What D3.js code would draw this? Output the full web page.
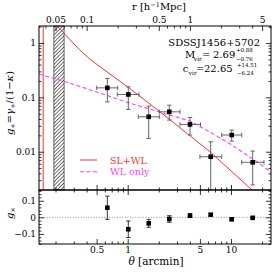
<!DOCTYPE html>
<html><head><meta charset="utf-8">
<script src="https://cdn.jsdelivr.net/npm/d3@7"></script>
<style>
body{margin:0;background:#fff;}
svg{display:block;font-family:"DejaVu Serif",serif;}
</style></head>
<body><svg id="c" width="274" height="272"></svg>
<script>
// ---------- data ----------
const theta    = [0.635, 1.013, 1.597, 2.527, 4.01, 6.36, 10.16, 16.22];
const thetaLo  = [0.501, 0.793, 1.266, 2.023, 3.208, 5.0, 8.13, 12.69];
const thetaHi  = [0.80, 1.286, 2.023, 3.208, 5.07, 8.13, 12.69, 20.87];
const gPlus    = [0.1494, 0.113, 0.0439, 0.0542, 0.0318, 0.00809, 0.0203, 0.0064];
const gPlusLo  = [0.0827, 0.060, 0.0176, 0.0382, 0.0203, 0.0003, 0.0157, 0.00245];
const gPlusHi  = [0.222, 0.156, 0.0689, 0.0719, 0.0428, 0.01526, 0.025, 0.0103];
const gCross   = [0.058, -0.072, -0.036, -0.010, 0.010, 0.016, -0.012, -0.003];
const gCrossErr= [0.070, 0.050, 0.024, 0.020, 0.011, 0.007, 0.005, 0.005];
// SL+WL model (outer branch) and its pole
const slwlTheta = [0.2068, 0.2212, 0.2472, 0.2763, 0.3452, 0.4315, 0.5393, 1.0526, 2.054, 6.263, 15.97, 20];
const slwlG     = [2.05, 1.837, 1.444, 1.145, 0.7345, 0.5024, 0.3659, 0.1444, 0.0542, 0.0100, 0.00198, 0.0011];
const slwlPoleTheta = [0.152, 0.152];
const slwlPoleG     = [100, 0.0001];
// WL only model
const wlTheta = [0.1384, 0.2763, 0.5393, 1.007, 2.054, 4.010, 6.263, 10.22, 16.33, 24.4];
const wlG     = [0.2666, 0.1822, 0.1194, 0.0799, 0.0535, 0.0366, 0.0230, 0.01327, 0.00735, 0.00424];
const hatchRange = [0.193, 0.242];
const thetaPerMpc = 4.0;
const yTopMajor = [0.01, 0.1, 1];
const xMajor = [0.5, 1, 5, 10];
const rMajor = [0.05, 0.1, 0.5, 1, 5];
const yBotMajor = [-0.1, 0, 0.1];

// ---------- layout ----------
const L = 39, R = 271, T = 26, M = 190, B = 244;
const svg = d3.select("#c");
const x = d3.scaleLog().domain([0.1384, 24.39]).range([L, R]);
const xr = d3.scaleLog().domain([0.1384/thetaPerMpc, 24.39/thetaPerMpc]).range([L, R]);
const yT = d3.scaleLog().domain([0.00198, 2.05]).range([M, T]);
const yB = d3.scaleLinear().domain([-0.161, 0.165]).range([B, M]);

function logMinors(dom){
  const out=[]; const lo=Math.min(...dom), hi=Math.max(...dom);
  for(let e=-4;e<=3;e++) for(let m=1;m<10;m++){const v=m*Math.pow(10,e); if(v>=lo&&v<=hi) out.push(v);}
  return out;
}
const fmt = d => { if (d===0) return "0"; const s = d3.format("~g")(d); return s.replace("-", "\u2212"); };

function ax(gen, scale, ticks, len, labels, tr){
  const a = gen(scale).tickValues(ticks).tickSizeInner(-len).tickSizeOuter(0).tickPadding(3)
    .tickFormat(labels ? fmt : "");
  const g = svg.append("g").attr("transform", tr).call(a);
  g.select(".domain").remove();
  g.selectAll("line").attr("stroke","#000").attr("stroke-width",0.8);
  g.selectAll("text").attr("font-family","DejaVu Serif").attr("font-size",9).attr("fill","#000");
  return g;
}
const majLen=5, minLen=2.5;

// clip paths
const defs = svg.append("defs");
defs.append("clipPath").attr("id","clipT").append("rect").attr("x",L).attr("y",T).attr("width",R-L).attr("height",M-T);
defs.append("clipPath").attr("id","clipB").append("rect").attr("x",L).attr("y",M).attr("width",R-L).attr("height",B-M);
const pat = defs.append("pattern").attr("id","hatch").attr("patternUnits","userSpaceOnUse")
  .attr("width",2.6).attr("height",2.6).attr("patternTransform","rotate(45)");
pat.append("line").attr("x1",0).attr("y1",0).attr("x2",0).attr("y2",2.6).attr("stroke","#000").attr("stroke-width",1.1);

// hatched region
svg.append("rect").attr("x",x(hatchRange[0])).attr("y",T).attr("width",x(hatchRange[1])-x(hatchRange[0]))
  .attr("height",M-T).attr("fill","url(#hatch)").attr("stroke","#000").attr("stroke-width",0.6);

const gT = svg.append("g").attr("clip-path","url(#clipT)");
const line = d3.line().x(d=>x(d[0])).y(d=>yT(d[1]));
gT.append("path").attr("d", line(slwlTheta.map((t,i)=>[t,slwlG[i]]))).attr("fill","none").attr("stroke","#ff3030").attr("stroke-width",1);
gT.append("path").attr("d", line(slwlPoleTheta.map((t,i)=>[t,slwlPoleG[i]]))).attr("fill","none").attr("stroke","#ff3030").attr("stroke-width",1);
gT.append("path").attr("d", line(wlTheta.map((t,i)=>[t,wlG[i]]))).attr("fill","none").attr("stroke","#ff40ff").attr("stroke-width",1.1).attr("stroke-dasharray","4,2.5");

// error bars top
const ecol = "#555", cap = 2.2;
theta.forEach((t,i)=>{
  const cx=x(t), cy=yT(gPlus[i]);
  gT.append("line").attr("x1",cx).attr("x2",cx).attr("y1",yT(gPlusLo[i])).attr("y2",yT(gPlusHi[i])).attr("stroke",ecol).attr("stroke-width",0.9);
  gT.append("line").attr("x1",x(thetaLo[i])).attr("x2",x(thetaHi[i])).attr("y1",cy).attr("y2",cy).attr("stroke",ecol).attr("stroke-width",0.9);
  [yT(gPlusLo[i]),yT(gPlusHi[i])].forEach(yy=>gT.append("line").attr("x1",cx-cap).attr("x2",cx+cap).attr("y1",yy).attr("y2",yy).attr("stroke",ecol).attr("stroke-width",0.9));
  [x(thetaLo[i]),x(thetaHi[i])].forEach(xx=>gT.append("line").attr("x1",xx).attr("x2",xx).attr("y1",cy-cap).attr("y2",cy+cap).attr("stroke",ecol).attr("stroke-width",0.9));
  gT.append("rect").attr("x",cx-2.3).attr("y",cy-2.3).attr("width",4.6).attr("height",4.6).attr("fill","#000");
});

// bottom panel
const gB = svg.append("g").attr("clip-path","url(#clipB)");
gB.append("line").attr("x1",L).attr("x2",R).attr("y1",yB(0)).attr("y2",yB(0)).attr("stroke","#888").attr("stroke-width",0.9).attr("stroke-dasharray","1,1.6");
theta.forEach((t,i)=>{
  const cx=x(t), cy=yB(gCross[i]);
  const y1=yB(gCross[i]-gCrossErr[i]), y2=yB(gCross[i]+gCrossErr[i]);
  gB.append("line").attr("x1",cx).attr("x2",cx).attr("y1",y1).attr("y2",y2).attr("stroke","#222").attr("stroke-width",0.9);
  [y1,y2].forEach(yy=>gB.append("line").attr("x1",cx-cap).attr("x2",cx+cap).attr("y1",yy).attr("y2",yy).attr("stroke","#222").attr("stroke-width",0.9));
  gB.append("rect").attr("x",cx-2.3).attr("y",cy-2.3).attr("width",4.6).attr("height",4.6).attr("fill","#000");
});

// axes: top panel
const yTMin = logMinors(yT.domain()).filter(v=>!yTopMajor.includes(v));
ax(d3.axisLeft, yT, yTopMajor, majLen, true, `translate(${L},0)`);
ax(d3.axisLeft, yT, yTMin, minLen, false, `translate(${L},0)`);
ax(d3.axisRight, yT, yTopMajor, majLen, false, `translate(${R},0)`);
ax(d3.axisRight, yT, yTMin, minLen, false, `translate(${R},0)`);
const xMin = logMinors(x.domain()).filter(v=>!xMajor.includes(v));
ax(d3.axisBottom, x, xMajor, majLen, false, `translate(0,${M})`);
ax(d3.axisBottom, x, xMin, minLen, false, `translate(0,${M})`);
const rMin = logMinors(xr.domain()).filter(v=>!rMajor.includes(v));
ax(d3.axisTop, xr, rMajor, majLen, true, `translate(0,${T})`);
ax(d3.axisTop, xr, rMin, minLen, false, `translate(0,${T})`);
// axes: bottom panel
const yBMin = d3.range(-0.16, 0.161, 0.02).map(v=>+v.toFixed(2)).filter(v=>!yBotMajor.includes(v));
ax(d3.axisLeft, yB, yBotMajor, majLen, true, `translate(${L},0)`);
ax(d3.axisLeft, yB, yBMin, minLen, false, `translate(${L},0)`);
ax(d3.axisRight, yB, yBotMajor, majLen, false, `translate(${R},0)`);
ax(d3.axisRight, yB, yBMin, minLen, false, `translate(${R},0)`);
ax(d3.axisTop, x, xMajor, majLen, false, `translate(0,${M})`);
ax(d3.axisTop, x, xMin, minLen, false, `translate(0,${M})`);
ax(d3.axisBottom, x, xMajor, majLen, true, `translate(0,${B})`);
ax(d3.axisBottom, x, xMin, minLen, false, `translate(0,${B})`);

// frames
svg.append("rect").attr("x",L).attr("y",T).attr("width",R-L).attr("height",M-T).attr("fill","none").attr("stroke","#000").attr("stroke-width",1);
svg.append("rect").attr("x",L).attr("y",M).attr("width",R-L).attr("height",B-M).attr("fill","none").attr("stroke","#000").attr("stroke-width",1);

// texts
function txt(s, px, py, size, opts={}){
  const t = svg.append("text").attr("x",px).attr("y",py).attr("font-size",size).attr("fill",opts.fill||"#000")
    .attr("text-anchor",opts.anchor||"start").attr("font-family","DejaVu Serif");
  if(opts.italic) t.attr("font-style","italic");
  t.text(s); return t;
}
// top axis title
const tt = svg.append("text").attr("x",159).attr("y",10).attr("text-anchor","middle").attr("font-size",10);
tt.append("tspan").text("r [h");
tt.append("tspan").attr("font-size",6.5).attr("dy",-3.5).text("\u22121");
tt.append("tspan").attr("dy",3.5).text("Mpc]");
// bottom axis title
const bt = svg.append("text").attr("x",156).attr("y",265).attr("text-anchor","middle").attr("font-size",10.5);
bt.append("tspan").attr("font-style","italic").text("\u03b8");
bt.append("tspan").text(" [arcmin]");
// y label top
const yl = svg.append("text").attr("transform","translate(13,103) rotate(-90)").attr("text-anchor","middle").attr("font-size",10);
yl.append("tspan").attr("font-style","italic").text("g");
yl.append("tspan").attr("font-size",6.5).attr("dy",2).text("+");
yl.append("tspan").attr("dy",-2).text("=");
yl.append("tspan").attr("font-style","italic").text("\u03b3");
yl.append("tspan").attr("font-size",6.5).attr("dy",2).text("+");
yl.append("tspan").attr("dy",-2).text("/(1\u2212");
yl.append("tspan").attr("font-style","italic").text("\u03ba");
yl.append("tspan").text(")");
// y label bottom
const yl2 = svg.append("text").attr("transform","translate(13,213) rotate(-90)").attr("text-anchor","middle").attr("font-size",10);
yl2.append("tspan").attr("font-style","italic").text("g");
yl2.append("tspan").attr("font-size",6.5).attr("dy",2).text("\u00d7");

// annotation
txt("SDSSJ1456+5702", 260, 46, 10, {anchor:"end"});
txt("M", 185, 58, 10); txt("vir", 193.8, 60.5, 6); txt("=", 202, 58, 10); txt("2.69", 213, 58, 10);
txt("+0.88", 236, 52.3, 5.5); txt("\u22120.76", 236, 60.6, 5.5);
txt("c", 182.7, 72, 10); txt("vir", 188.6, 74.5, 6); txt("=", 196, 72, 10); txt("22.65", 204, 72, 10);
txt("+14.51", 237, 67.4, 5.5); txt("\u22126.24", 237, 75.2, 5.5);

// legend
svg.append("line").attr("x1",80).attr("x2",97).attr("y1",160).attr("y2",160).attr("stroke","#ff3030").attr("stroke-width",1);
txt("SL+WL", 110, 163.5, 9.5, {fill:"#ff3030"});
svg.append("line").attr("x1",80).attr("x2",97).attr("y1",171.7).attr("y2",171.7).attr("stroke","#ff40ff").attr("stroke-width",1.1).attr("stroke-dasharray","4,2.5");
txt("WL only", 110, 175, 9.5, {fill:"#ff40ff"});
</script></body></html>
